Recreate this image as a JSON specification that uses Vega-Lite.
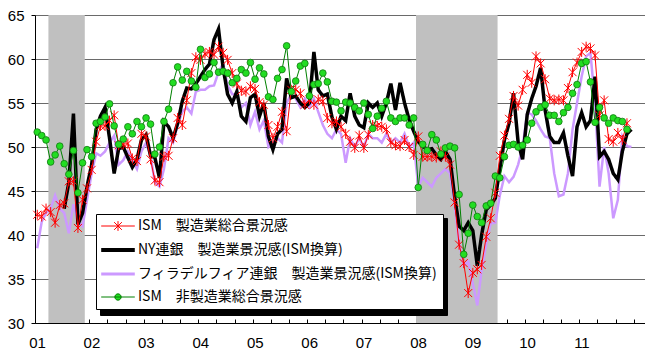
{
  "$schema": "https://vega.github.io/schema/vega-lite/v6.json",
  "autosize": {"type": "none"},
  "padding": {"left": 35, "top": 15, "right": 0, "bottom": 29},
  "width": 610,
  "height": 308,
  "background": "white",
  "config": {"view": {"stroke": null}},
  "datasets": {
    "bands": [{"s": "2001-04-01", "e": "2001-12-01"}, {"s": "2008-01-01", "e": "2009-07-01"}],
    "m": [
{"d":"2001-01-16","ism":42.3,"ny":null,"phil":38.5,"nmi":51.7},
{"d":"2001-02-15","ism":42.1,"ny":null,"phil":41.5,"nmi":51.3},
{"d":"2001-03-16","ism":43.0,"ny":null,"phil":42.5,"nmi":50.8},
{"d":"2001-04-16","ism":42.6,"ny":null,"phil":43.0,"nmi":48.3},
{"d":"2001-05-16","ism":41.4,"ny":null,"phil":44.5,"nmi":49.1},
{"d":"2001-06-16","ism":43.4,"ny":null,"phil":43.0,"nmi":50.1},
{"d":"2001-07-16","ism":43.6,"ny":43.0,"phil":42.5,"nmi":48.1},
{"d":"2001-08-16","ism":46.1,"ny":46.0,"phil":40.2,"nmi":46.9},
{"d":"2001-09-16","ism":46.1,"ny":53.8,"phil":43.5,"nmi":49.6},
{"d":"2001-10-16","ism":40.8,"ny":41.2,"phil":41.5,"nmi":44.8},
{"d":"2001-11-16","ism":44.0,"ny":42.5,"phil":41.0,"nmi":48.2},
{"d":"2001-12-16","ism":45.3,"ny":45.5,"phil":44.0,"nmi":49.7},
{"d":"2002-01-16","ism":47.4,"ny":48.0,"phil":47.0,"nmi":48.9},
{"d":"2002-02-15","ism":50.6,"ny":52.0,"phil":49.3,"nmi":52.7},
{"d":"2002-03-16","ism":52.4,"ny":53.5,"phil":49.0,"nmi":52.9},
{"d":"2002-04-16","ism":52.4,"ny":54.5,"phil":49.5,"nmi":53.4},
{"d":"2002-05-16","ism":53.0,"ny":51.0,"phil":50.5,"nmi":54.9},
{"d":"2002-06-16","ism":53.6,"ny":47.0,"phil":51.3,"nmi":52.4},
{"d":"2002-07-16","ism":50.2,"ny":49.8,"phil":48.0,"nmi":50.3},
{"d":"2002-08-16","ism":50.3,"ny":50.0,"phil":48.5,"nmi":50.9},
{"d":"2002-09-16","ism":50.4,"ny":48.8,"phil":49.5,"nmi":52.3},
{"d":"2002-10-16","ism":48.7,"ny":47.7,"phil":48.5,"nmi":51.5},
{"d":"2002-11-16","ism":48.4,"ny":48.6,"phil":47.5,"nmi":52.9},
{"d":"2002-12-16","ism":51.5,"ny":50.8,"phil":49.5,"nmi":52.3},
{"d":"2003-01-16","ism":51.2,"ny":51.4,"phil":50.5,"nmi":53.3},
{"d":"2003-02-15","ism":48.6,"ny":49.0,"phil":49.0,"nmi":52.6},
{"d":"2003-03-16","ism":46.2,"ny":48.8,"phil":46.0,"nmi":49.2},
{"d":"2003-04-16","ism":46.0,"ny":46.5,"phil":45.5,"nmi":50.0},
{"d":"2003-05-16","ism":48.9,"ny":52.9,"phil":47.5,"nmi":52.9},
{"d":"2003-06-16","ism":49.0,"ny":52.3,"phil":51.0,"nmi":54.3},
{"d":"2003-07-16","ism":51.0,"ny":51.0,"phil":50.5,"nmi":57.3},
{"d":"2003-08-16","ism":53.3,"ny":52.7,"phil":52.5,"nmi":59.1},
{"d":"2003-09-16","ism":52.5,"ny":55.2,"phil":54.0,"nmi":57.6},
{"d":"2003-10-16","ism":55.3,"ny":56.7,"phil":54.5,"nmi":58.6},
{"d":"2003-11-16","ism":58.4,"ny":56.6,"phil":53.8,"nmi":57.5},
{"d":"2003-12-16","ism":60.2,"ny":57.2,"phil":56.3,"nmi":56.8},
{"d":"2004-01-16","ism":59.9,"ny":58.0,"phil":56.5,"nmi":61.1},
{"d":"2004-02-15","ism":60.6,"ny":58.8,"phil":56.5,"nmi":57.9},
{"d":"2004-03-16","ism":60.8,"ny":59.4,"phil":56.9,"nmi":58.3},
{"d":"2004-04-16","ism":60.5,"ny":62.2,"phil":57.0,"nmi":59.6},
{"d":"2004-05-16","ism":61.4,"ny":63.4,"phil":58.5,"nmi":58.5},
{"d":"2004-06-16","ism":60.7,"ny":59.0,"phil":59.5,"nmi":58.6},
{"d":"2004-07-16","ism":59.9,"ny":56.0,"phil":57.0,"nmi":58.4},
{"d":"2004-08-16","ism":58.4,"ny":55.0,"phil":56.0,"nmi":57.3},
{"d":"2004-09-16","ism":57.2,"ny":56.3,"phil":56.0,"nmi":57.8},
{"d":"2004-10-16","ism":56.4,"ny":53.5,"phil":54.5,"nmi":58.8},
{"d":"2004-11-16","ism":56.3,"ny":52.9,"phil":55.0,"nmi":58.4},
{"d":"2004-12-16","ism":56.9,"ny":55.6,"phil":52.5,"nmi":59.6},
{"d":"2005-01-16","ism":56.6,"ny":56.0,"phil":54.0,"nmi":57.7},
{"d":"2005-02-15","ism":55.1,"ny":53.5,"phil":52.0,"nmi":59.0},
{"d":"2005-03-16","ism":54.8,"ny":55.0,"phil":53.0,"nmi":58.3},
{"d":"2005-04-16","ism":52.5,"ny":51.2,"phil":50.0,"nmi":55.7},
{"d":"2005-05-16","ism":51.0,"ny":49.7,"phil":50.5,"nmi":55.4},
{"d":"2005-06-16","ism":52.3,"ny":51.5,"phil":51.0,"nmi":57.8},
{"d":"2005-07-16","ism":54.0,"ny":52.0,"phil":50.5,"nmi":58.8},
{"d":"2005-08-16","ism":51.8,"ny":57.8,"phil":55.0,"nmi":61.5},
{"d":"2005-09-16","ism":56.5,"ny":55.6,"phil":56.0,"nmi":56.3},
{"d":"2005-10-16","ism":56.5,"ny":55.8,"phil":55.5,"nmi":57.5},
{"d":"2005-11-16","ism":56.1,"ny":55.0,"phil":54.5,"nmi":59.2},
{"d":"2005-12-16","ism":54.8,"ny":54.5,"phil":55.5,"nmi":59.5},
{"d":"2006-01-16","ism":55.4,"ny":55.0,"phil":54.5,"nmi":55.8},
{"d":"2006-02-15","ism":54.8,"ny":60.8,"phil":55.5,"nmi":57.1},
{"d":"2006-03-16","ism":55.4,"ny":56.5,"phil":54.0,"nmi":57.2},
{"d":"2006-04-16","ism":55.2,"ny":55.8,"phil":52.5,"nmi":58.4},
{"d":"2006-05-16","ism":53.3,"ny":56.0,"phil":51.5,"nmi":57.4},
{"d":"2006-06-16","ism":52.7,"ny":53.4,"phil":51.0,"nmi":55.2},
{"d":"2006-07-16","ism":52.9,"ny":52.0,"phil":52.0,"nmi":55.1},
{"d":"2006-08-16","ism":52.3,"ny":53.5,"phil":51.5,"nmi":54.1},
{"d":"2006-09-16","ism":51.5,"ny":53.0,"phil":48.2,"nmi":55.1},
{"d":"2006-10-16","ism":50.6,"ny":56.1,"phil":51.0,"nmi":55.0},
{"d":"2006-11-16","ism":49.9,"ny":53.5,"phil":50.0,"nmi":54.5},
{"d":"2006-12-16","ism":51.3,"ny":52.5,"phil":51.0,"nmi":54.1},
{"d":"2007-01-16","ism":49.9,"ny":52.2,"phil":50.0,"nmi":55.0},
{"d":"2007-02-15","ism":51.4,"ny":55.0,"phil":51.5,"nmi":53.7},
{"d":"2007-03-16","ism":52.5,"ny":54.5,"phil":51.0,"nmi":52.1},
{"d":"2007-04-16","ism":52.4,"ny":55.0,"phil":51.0,"nmi":53.5},
{"d":"2007-05-16","ism":52.3,"ny":53.5,"phil":50.5,"nmi":54.4},
{"d":"2007-06-16","ism":52.0,"ny":55.0,"phil":51.5,"nmi":55.2},
{"d":"2007-07-16","ism":50.5,"ny":57.2,"phil":50.5,"nmi":53.3},
{"d":"2007-08-16","ism":50.2,"ny":54.2,"phil":51.0,"nmi":52.9},
{"d":"2007-09-16","ism":50.1,"ny":57.3,"phil":50.5,"nmi":53.3},
{"d":"2007-10-16","ism":50.8,"ny":55.0,"phil":51.5,"nmi":53.3},
{"d":"2007-11-16","ism":50.0,"ny":53.1,"phil":50.0,"nmi":52.5},
{"d":"2007-12-16","ism":49.1,"ny":51.8,"phil":50.5,"nmi":53.3},
{"d":"2008-01-16","ism":51.2,"ny":50.6,"phil":45.5,"nmi":45.4},
{"d":"2008-02-15","ism":48.9,"ny":50.1,"phil":46.5,"nmi":50.3},
{"d":"2008-03-16","ism":48.9,"ny":49.7,"phil":46.0,"nmi":49.6},
{"d":"2008-04-16","ism":48.9,"ny":49.8,"phil":45.5,"nmi":51.4},
{"d":"2008-05-16","ism":48.8,"ny":49.1,"phil":46.5,"nmi":50.8},
{"d":"2008-06-16","ism":49.5,"ny":48.6,"phil":47.0,"nmi":49.2},
{"d":"2008-07-16","ism":48.9,"ny":49.5,"phil":47.5,"nmi":49.9},
{"d":"2008-08-16","ism":48.0,"ny":48.6,"phil":47.0,"nmi":50.1},
{"d":"2008-09-16","ism":43.7,"ny":44.4,"phil":43.5,"nmi":49.9},
{"d":"2008-10-16","ism":38.9,"ny":41.0,"phil":39.1,"nmi":44.6},
{"d":"2008-11-16","ism":36.8,"ny":40.5,"phil":36.5,"nmi":37.8},
{"d":"2008-12-16","ism":33.4,"ny":41.4,"phil":37.0,"nmi":40.2},
{"d":"2009-01-16","ism":35.7,"ny":40.5,"phil":34.5,"nmi":43.4},
{"d":"2009-02-15","ism":36.1,"ny":36.5,"phil":32.0,"nmi":42.1},
{"d":"2009-03-16","ism":36.6,"ny":40.0,"phil":36.0,"nmi":41.4},
{"d":"2009-04-16","ism":39.8,"ny":42.9,"phil":39.0,"nmi":43.3},
{"d":"2009-05-16","ism":41.9,"ny":43.4,"phil":41.3,"nmi":43.6},
{"d":"2009-06-16","ism":44.8,"ny":44.2,"phil":41.4,"nmi":46.7},
{"d":"2009-07-16","ism":49.0,"ny":47.5,"phil":44.5,"nmi":46.5},
{"d":"2009-08-16","ism":51.3,"ny":50.8,"phil":46.7,"nmi":48.9},
{"d":"2009-09-16","ism":53.2,"ny":52.7,"phil":46.0,"nmi":50.2},
{"d":"2009-10-16","ism":55.8,"ny":56.1,"phil":46.6,"nmi":50.3},
{"d":"2009-11-16","ism":54.7,"ny":50.5,"phil":48.0,"nmi":50.0},
{"d":"2009-12-16","ism":56.5,"ny":48.6,"phil":50.0,"nmi":50.2},
{"d":"2010-01-16","ism":58.2,"ny":53.7,"phil":53.9,"nmi":50.8},
{"d":"2010-02-15","ism":57.3,"ny":55.5,"phil":53.7,"nmi":52.7},
{"d":"2010-03-16","ism":60.3,"ny":56.9,"phil":53.0,"nmi":54.0},
{"d":"2010-04-16","ism":59.5,"ny":59.0,"phil":52.0,"nmi":54.5},
{"d":"2010-05-16","ism":57.7,"ny":54.2,"phil":51.2,"nmi":54.8},
{"d":"2010-06-16","ism":55.5,"ny":51.2,"phil":51.0,"nmi":53.6},
{"d":"2010-07-16","ism":55.3,"ny":50.5,"phil":47.0,"nmi":53.6},
{"d":"2010-08-16","ism":55.4,"ny":50.5,"phil":44.4,"nmi":52.9},
{"d":"2010-09-16","ism":55.3,"ny":51.6,"phil":44.6,"nmi":53.9},
{"d":"2010-10-16","ism":56.7,"ny":49.0,"phil":47.0,"nmi":54.5},
{"d":"2010-11-16","ism":58.5,"ny":46.7,"phil":52.0,"nmi":56.1},
{"d":"2010-12-16","ism":59.6,"ny":52.3,"phil":55.0,"nmi":57.1},
{"d":"2011-01-16","ism":60.8,"ny":53.9,"phil":58.0,"nmi":59.5},
{"d":"2011-02-15","ism":61.4,"ny":52.3,"phil":60.3,"nmi":59.7},
{"d":"2011-03-16","ism":61.2,"ny":53.0,"phil":60.7,"nmi":57.4},
{"d":"2011-04-16","ism":60.4,"ny":58.0,"phil":55.0,"nmi":52.8},
{"d":"2011-05-16","ism":53.6,"ny":48.9,"phil":45.5,"nmi":54.5},
{"d":"2011-06-16","ism":55.3,"ny":49.5,"phil":50.0,"nmi":53.3},
{"d":"2011-07-16","ism":50.9,"ny":48.6,"phil":47.0,"nmi":52.7},
{"d":"2011-08-16","ism":50.6,"ny":47.0,"phil":41.9,"nmi":53.3},
{"d":"2011-09-16","ism":51.6,"ny":46.3,"phil":44.0,"nmi":53.0},
{"d":"2011-10-16","ism":50.8,"ny":49.5,"phil":51.2,"nmi":52.9},
{"d":"2011-11-16","ism":52.7,"ny":51.5,"phil":50.1,"nmi":52.0},
{"d":"2011-12-16","ism":null,"ny":52.0,"phil":50.0,"nmi":null}
    ]
  },
  "layer": [
    {
      "data": {"name": "bands"},
      "mark": {"type": "rect", "color": "#c0c0c0"},
      "encoding": {
        "x": {
          "field": "s", "type": "temporal",
          "scale": {"type": "utc", "domain": [978307200000, 1331856000000]},
          "axis": {
            "title": null, "grid": false,
            "tickCount": {"interval": "month", "step": 4},
            "labelExpr": "utcmonth(datum.value) === 0 && utcyear(datum.value) < 2012 ? utcFormat(datum.value, '%y') : ''",
            "domainColor": "black", "tickColor": "black", "tickSize": -4,
            "labelFont": "Liberation Sans", "labelFontSize": 15, "labelColor": "black",
            "labelPadding": 16, "labelOffset": 2, "labelFlush": false, "labelOverlap": false, "labelBound": false
          }
        },
        "x2": {"field": "e"}
      }
    },
    {
      "data": {"name": "m"},
      "mark": {"type": "line", "strokeWidth": 2.5},
      "encoding": {
        "x": {"field": "d", "type": "temporal"},
        "y": {
          "field": "phil", "type": "quantitative",
          "scale": {"domain": [30, 65], "nice": false, "zero": false},
          "axis": {
            "title": null, "values": [30, 35, 40, 45, 50, 55, 60, 65],
            "grid": true, "gridColor": "#6a6a6a", "gridWidth": 1,
            "domainColor": "black", "tickColor": "black", "tickSize": 4,
            "labelFont": "Liberation Sans", "labelFontSize": 15, "labelColor": "black", "labelPadding": 7
          }
        },
        "color": {
          "datum": "フィラデルフィア連銀　製造業景況感(ISM換算)",
          "scale": {
            "domain": ["ISM　製造業総合景況感", "NY連銀　製造業景況感(ISM換算)", "フィラデルフィア連銀　製造業景況感(ISM換算)", "ISM　非製造業総合景況感"],
            "range": ["#ff0000", "#000000", "#cc99ff", "#008000"]
          },
          "legend": {
            "title": null, "orient": "none", "legendX": 61, "legendY": 199, "direction": "vertical", "zindex": 2,
            "fillColor": "white", "strokeColor": "black", "padding": 5,
            "symbolType": "stroke", "symbolSize": 196, "symbolOffset": 10, "labelOffset": 13, "rowPadding": 9,
            "labelFont": "Noto Sans CJK JP", "labelFontSize": 14, "labelColor": "black", "labelLimit": 0,
            "encode": {
              "symbols": {
                "update": {
                  "shape": {"signal": "indexof('' + datum.value, '非') >= 0 ? 'M-2.4,0H2.4M-0.45,0A0.45,0.45,0,1,1,0.45,0A0.45,0.45,0,1,1,-0.45,0Z' : (indexof('' + datum.value, 'ISM') === 0 ? 'M-2.4,0H2.4M-0.55,-0.55L0.55,0.55M-0.55,0.55L0.55,-0.55M0,-0.7V0.7' : 'M-2.4,0H2.4')"},
                  "stroke": {"signal": "indexof('' + datum.value, '非') >= 0 ? '#008000' : (indexof('' + datum.value, 'ISM') === 0 ? '#ff0000' : (indexof('' + datum.value, 'NY') === 0 ? '#000000' : '#cc99ff'))"},
                  "fill": {"signal": "indexof('' + datum.value, '非') >= 0 ? '#22dd22' : 'transparent'"},
                  "strokeWidth": {"signal": "indexof('' + datum.value, 'NY') === 0 ? 4 : (indexof('' + datum.value, 'ISM') === 0 ? 1 : (indexof('' + datum.value, '非') >= 0 ? 1 : 3))"}
                }
              }
            }
          }
        }
      }
    },
    {
      "data": {"name": "m"},
      "mark": {"type": "line", "strokeWidth": 3.5},
      "encoding": {
        "x": {"field": "d", "type": "temporal"},
        "y": {"field": "ny", "type": "quantitative"},
        "color": {"datum": "NY連銀　製造業景況感(ISM換算)"},
        "strokeDash": {
          "datum": "b",
          "scale": {"domain": ["a", "b", "c", "d"], "range": [[1, 0], [1, 0], [1, 0], [1, 0]]},
          "legend": {
            "title": null, "orient": "none", "legendX": 65, "legendY": 203, "direction": "vertical", "zindex": 1,
            "fillColor": "black", "strokeColor": "black", "padding": 5,
            "symbolType": "stroke", "symbolSize": 196, "symbolOffset": 10, "labelOffset": 311, "rowPadding": 9,
            "symbolStrokeColor": "black", "symbolFillColor": "black",
            "labelFont": "Noto Sans CJK JP", "labelFontSize": 14, "labelColor": "black", "labelLimit": 0,
            "labelExpr": "''"
          }
        }
      }
    },
    {
      "data": {"name": "m"},
      "mark": {"type": "line", "strokeWidth": 1},
      "encoding": {
        "x": {"field": "d", "type": "temporal"},
        "y": {"field": "ism", "type": "quantitative"},
        "color": {"datum": "ISM　製造業総合景況感"}
      }
    },
    {
      "data": {"name": "m"},
      "mark": {"type": "point", "shape": "M-0.8,-0.8L0.8,0.8M-0.8,0.8L0.8,-0.8M0,-1V1", "size": 100, "filled": false, "stroke": "#ff0000", "strokeWidth": 1, "opacity": 1},
      "encoding": {
        "x": {"field": "d", "type": "temporal"},
        "y": {"field": "ism", "type": "quantitative"}
      }
    },
    {
      "data": {"name": "m"},
      "mark": {"type": "line", "strokeWidth": 1},
      "encoding": {
        "x": {"field": "d", "type": "temporal"},
        "y": {"field": "nmi", "type": "quantitative"},
        "color": {"datum": "ISM　非製造業総合景況感"}
      }
    },
    {
      "data": {"name": "m"},
      "mark": {"type": "point", "shape": "circle", "size": 45, "filled": true, "fill": "#22dd22", "stroke": "#117711", "strokeWidth": 0.8, "opacity": 1},
      "encoding": {
        "x": {"field": "d", "type": "temporal"},
        "y": {"field": "nmi", "type": "quantitative"}
      }
    }
  ]
}
